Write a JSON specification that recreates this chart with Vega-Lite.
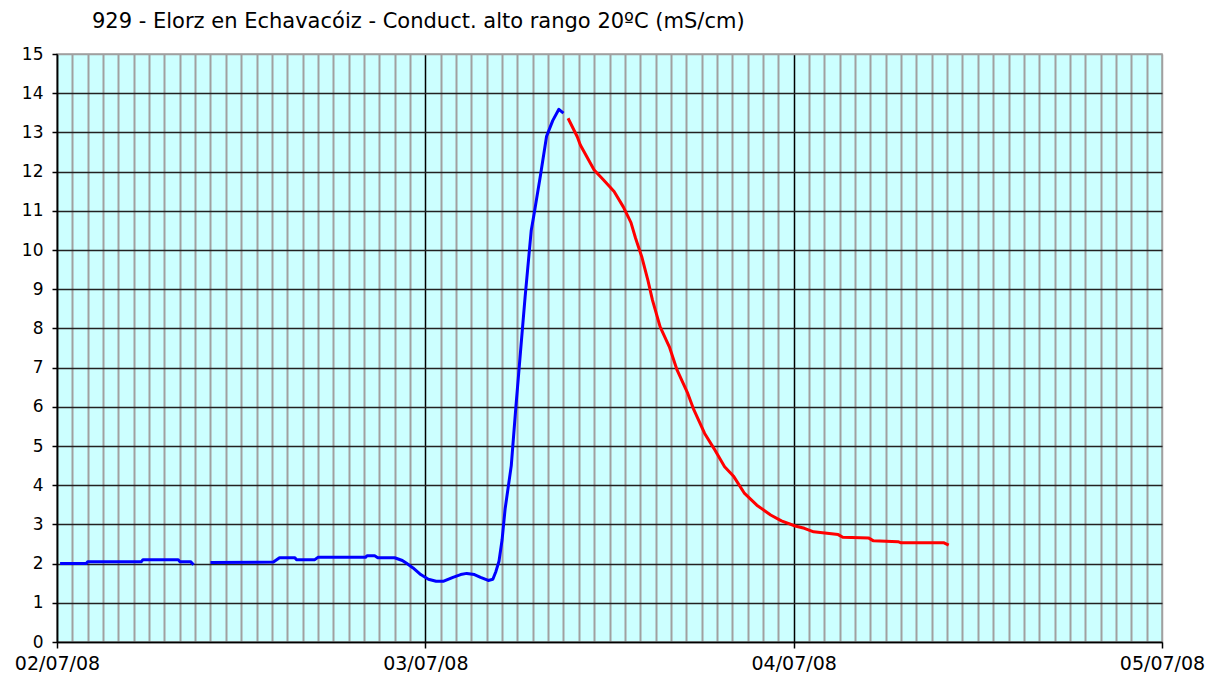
{
  "$schema": "https://vega.github.io/schema/vega-lite/v6.json",
  "autosize": "none",
  "width": 1105,
  "height": 588,
  "padding": {"left": 57, "top": 54, "right": 46, "bottom": 38},
  "title": {
    "text": "929 - Elorz en Echavacóiz - Conduct. alto rango 20ºC (mS/cm)",
    "anchor": "start",
    "frame": "group",
    "dx": 35,
    "offset": 13,
    "font": "DejaVu Sans",
    "fontSize": 21,
    "fontWeight": "normal",
    "color": "#000000"
  },
  "config": {
    "view": {"fill": "#ccffff", "stroke": "#a0a0a0", "strokeWidth": 1.5},
    "axis": {"labelFont": "DejaVu Sans", "labelColor": "#000000", "domainColor": "#000000", "tickColor": "#000000", "domainWidth": 1.5, "tickWidth": 1.5}
  },
  "data": {
    "values": [
      {"t": "2008-07-02T00:12", "v": 2.0, "s": "a"},
      {"t": "2008-07-02T01:54", "v": 2.0, "s": "a"},
      {"t": "2008-07-02T02:00", "v": 2.05, "s": "a"},
      {"t": "2008-07-02T05:30", "v": 2.05, "s": "a"},
      {"t": "2008-07-02T05:36", "v": 2.1, "s": "a"},
      {"t": "2008-07-02T07:54", "v": 2.1, "s": "a"},
      {"t": "2008-07-02T08:00", "v": 2.05, "s": "a"},
      {"t": "2008-07-02T08:42", "v": 2.05, "s": "a"},
      {"t": "2008-07-02T08:54", "v": 1.97, "s": "a"},
      {"t": "2008-07-02T10:00", "v": 2.03, "s": "b"},
      {"t": "2008-07-02T14:06", "v": 2.04, "s": "b"},
      {"t": "2008-07-02T14:30", "v": 2.15, "s": "b"},
      {"t": "2008-07-02T15:30", "v": 2.15, "s": "b"},
      {"t": "2008-07-02T15:36", "v": 2.1, "s": "b"},
      {"t": "2008-07-02T16:48", "v": 2.1, "s": "b"},
      {"t": "2008-07-02T17:00", "v": 2.16, "s": "b"},
      {"t": "2008-07-02T20:06", "v": 2.16, "s": "b"},
      {"t": "2008-07-02T20:12", "v": 2.2, "s": "b"},
      {"t": "2008-07-02T20:42", "v": 2.2, "s": "b"},
      {"t": "2008-07-02T20:54", "v": 2.15, "s": "b"},
      {"t": "2008-07-02T22:00", "v": 2.15, "s": "b"},
      {"t": "2008-07-02T22:30", "v": 2.08, "s": "b"},
      {"t": "2008-07-02T22:48", "v": 2.0, "s": "b"},
      {"t": "2008-07-02T23:12", "v": 1.89, "s": "b"},
      {"t": "2008-07-02T23:42", "v": 1.72, "s": "b"},
      {"t": "2008-07-03T00:12", "v": 1.6, "s": "b"},
      {"t": "2008-07-03T00:42", "v": 1.55, "s": "b"},
      {"t": "2008-07-03T01:12", "v": 1.55, "s": "b"},
      {"t": "2008-07-03T01:48", "v": 1.65, "s": "b"},
      {"t": "2008-07-03T02:18", "v": 1.72, "s": "b"},
      {"t": "2008-07-03T02:42", "v": 1.75, "s": "b"},
      {"t": "2008-07-03T03:12", "v": 1.72, "s": "b"},
      {"t": "2008-07-03T03:36", "v": 1.65, "s": "b"},
      {"t": "2008-07-03T04:06", "v": 1.57, "s": "b"},
      {"t": "2008-07-03T04:24", "v": 1.6, "s": "b"},
      {"t": "2008-07-03T04:36", "v": 1.8, "s": "b"},
      {"t": "2008-07-03T04:48", "v": 2.06, "s": "b"},
      {"t": "2008-07-03T05:00", "v": 2.6, "s": "b"},
      {"t": "2008-07-03T05:12", "v": 3.4, "s": "b"},
      {"t": "2008-07-03T05:36", "v": 4.5, "s": "b"},
      {"t": "2008-07-03T05:54", "v": 6.0, "s": "b"},
      {"t": "2008-07-03T06:12", "v": 7.4, "s": "b"},
      {"t": "2008-07-03T06:30", "v": 8.8, "s": "b"},
      {"t": "2008-07-03T06:54", "v": 10.5, "s": "b"},
      {"t": "2008-07-03T07:06", "v": 10.95, "s": "b"},
      {"t": "2008-07-03T07:30", "v": 11.9, "s": "b"},
      {"t": "2008-07-03T07:54", "v": 12.9, "s": "b"},
      {"t": "2008-07-03T08:18", "v": 13.3, "s": "b"},
      {"t": "2008-07-03T08:42", "v": 13.59, "s": "b"},
      {"t": "2008-07-03T09:00", "v": 13.49, "s": "b"},
      {"t": "2008-07-03T09:18", "v": 13.36, "s": "c"},
      {"t": "2008-07-03T09:54", "v": 12.89, "s": "c"},
      {"t": "2008-07-03T10:06", "v": 12.68, "s": "c"},
      {"t": "2008-07-03T11:00", "v": 12.04, "s": "c"},
      {"t": "2008-07-03T11:36", "v": 11.79, "s": "c"},
      {"t": "2008-07-03T12:18", "v": 11.49, "s": "c"},
      {"t": "2008-07-03T12:54", "v": 11.1, "s": "c"},
      {"t": "2008-07-03T13:24", "v": 10.7, "s": "c"},
      {"t": "2008-07-03T13:42", "v": 10.3, "s": "c"},
      {"t": "2008-07-03T14:06", "v": 9.83, "s": "c"},
      {"t": "2008-07-03T14:30", "v": 9.23, "s": "c"},
      {"t": "2008-07-03T14:48", "v": 8.72, "s": "c"},
      {"t": "2008-07-03T15:18", "v": 8.04, "s": "c"},
      {"t": "2008-07-03T15:54", "v": 7.53, "s": "c"},
      {"t": "2008-07-03T16:24", "v": 6.94, "s": "c"},
      {"t": "2008-07-03T17:06", "v": 6.34, "s": "c"},
      {"t": "2008-07-03T17:30", "v": 5.92, "s": "c"},
      {"t": "2008-07-03T18:12", "v": 5.32, "s": "c"},
      {"t": "2008-07-03T18:48", "v": 4.94, "s": "c"},
      {"t": "2008-07-03T19:30", "v": 4.47, "s": "c"},
      {"t": "2008-07-03T20:06", "v": 4.22, "s": "c"},
      {"t": "2008-07-03T20:48", "v": 3.79, "s": "c"},
      {"t": "2008-07-03T21:36", "v": 3.49, "s": "c"},
      {"t": "2008-07-03T22:30", "v": 3.24, "s": "c"},
      {"t": "2008-07-03T23:12", "v": 3.09, "s": "c"},
      {"t": "2008-07-04T00:06", "v": 2.96, "s": "c"},
      {"t": "2008-07-04T00:42", "v": 2.9, "s": "c"},
      {"t": "2008-07-04T01:18", "v": 2.81, "s": "c"},
      {"t": "2008-07-04T02:54", "v": 2.74, "s": "c"},
      {"t": "2008-07-04T03:12", "v": 2.67, "s": "c"},
      {"t": "2008-07-04T04:54", "v": 2.65, "s": "c"},
      {"t": "2008-07-04T05:12", "v": 2.58, "s": "c"},
      {"t": "2008-07-04T06:48", "v": 2.56, "s": "c"},
      {"t": "2008-07-04T07:00", "v": 2.53, "s": "c"},
      {"t": "2008-07-04T09:48", "v": 2.53, "s": "c"},
      {"t": "2008-07-04T10:06", "v": 2.47, "s": "c"}
    ]
  },
  "mark": {"type": "line", "strokeWidth": 3, "strokeJoin": "round"},
  "encoding": {
    "x": {
      "field": "t",
      "type": "temporal",
      "scale": {"domain": [{"year": 2008, "month": 7, "date": 2}, {"year": 2008, "month": 7, "date": 5}], "nice": false},
      "axis": {
        "title": null,
        "tickCount": 72,
        "format": "%d/%m/%y",
        "labelExpr": "hours(datum.value) == 0 ? datum.label : ''",
        "labelOverlap": false,
        "labelFlush": false,
        "labelFontSize": 19,
        "labelPadding": 6,
        "tickSize": 6,
        "tickOpacity": {"condition": {"test": "hours(datum.value) == 0", "value": 1}, "value": 0},
        "gridColor": {"condition": {"test": "hours(datum.value) == 0 && date(datum.value) < 5", "value": "#000000"}, "value": "#a0a0a0"},
        "gridWidth": {"condition": {"test": "hours(datum.value) == 0", "value": 1.5}, "value": 2}
      }
    },
    "y": {
      "field": "v",
      "type": "quantitative",
      "scale": {"domain": [0, 15], "nice": false},
      "axis": {
        "title": null,
        "values": [0, 1, 2, 3, 4, 5, 6, 7, 8, 9, 10, 11, 12, 13, 14, 15],
        "labelFontSize": 17,
        "labelPadding": 9,
        "tickSize": 5,
        "gridColor": {"condition": {"test": "datum.value == 15", "value": "#a0a0a0"}, "value": "#222222"},
        "gridWidth": 1.7
      }
    },
    "color": {
      "field": "s",
      "type": "nominal",
      "scale": {"domain": ["a", "b", "c"], "range": ["#0000ff", "#0000ff", "#ff0000"]},
      "legend": null
    }
  }
}
